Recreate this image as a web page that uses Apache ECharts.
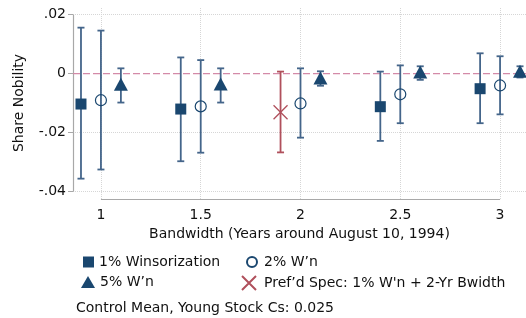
<!DOCTYPE html>
<html>
<head>
<meta charset="utf-8">
<script src="https://cdn.jsdelivr.net/npm/echarts@6/dist/echarts.min.js"></script>
<style>
html,body{margin:0;padding:0;background:#fff;}
#chart{width:526px;height:318px;}
</style>
</head>
<body>
<div id="chart"></div>
<script>
// ---- data ----
const xTickValues = [1, 1.5, 2, 2.5, 3];
const xTickLabels = ['1', '1.5', '2', '2.5', '3'];
const yTickValues = [-0.04, -0.02, 0, 0.02];
const yTickLabels = ['-.04', '-.02', '0', '.02'];
const zeroLineY = 0;

const w1X   = [0.9, 1.4, 2.4, 2.9];
const w1Est = [-0.0103, -0.0120, -0.0112, -0.0051];
const w1Lo  = [-0.0356, -0.0297, -0.0228, -0.0168];
const w1Hi  = [0.0156, 0.0055, 0.0007, 0.0069];

const w2X   = [1.0, 1.5, 2.0, 2.5, 3.0];
const w2Est = [-0.0090, -0.0111, -0.0101, -0.0070, -0.0040];
const w2Lo  = [-0.0325, -0.0268, -0.0217, -0.0168, -0.0138];
const w2Hi  = [0.0146, 0.0046, 0.0018, 0.0028, 0.0059];

const w5X   = [1.1, 1.6, 2.1, 2.6, 3.1];
const w5Est = [-0.0036, -0.0035, -0.0015, 0.0006, 0.0008];
const w5Lo  = [-0.0098, -0.0098, -0.0041, -0.0021, -0.0013];
const w5Hi  = [0.0018, 0.0018, 0.0008, 0.0025, 0.0025];

const prefX   = [1.9];
const prefEst = [-0.0131];
const prefLo  = [-0.0267];
const prefHi  = [0.0007];

const names = ['1% Winsorization', '2% W\u2019n', '5% W\u2019n', 'Pref\u2019d Spec: 1% W\'n + 2-Yr Bwidth'];
const noteText = 'Control Mean, Young Stock Cs: 0.025';
const xTitle = 'Bandwidth (Years around August 10, 1994)';
const yTitle = 'Share Nobility';

// ---- chart setup ----
const X_MIN = 0.86, X_MAX = 3.13, Y_MIN = -0.0425, Y_MAX = 0.0226;
const NAVY = '#1a476f', BAR = '#44658a', RED = '#b0505c', GRID = '#d6d6d6', AXIS = '#a8a8a8', ZERO = '#d48aa8';
const FONT = 'DejaVu Sans';

function zip(xs, a) { return xs.map((x, i) => [x, a[i]]); }
function zip3(xs, lo, hi) { return xs.map((x, i) => [x, lo[i], hi[i]]); }

function errBar(color) {
  return function (params, api) {
    const x = api.value(0);
    const lo = api.coord([x, api.value(1)]);
    const hi = api.coord([x, api.value(2)]);
    const cap = 3.5;
    const st = { stroke: color, lineWidth: 1.8 };
    return {
      type: 'group',
      children: [
        { type: 'line', shape: { x1: lo[0], y1: lo[1], x2: hi[0], y2: hi[1] }, style: st },
        { type: 'line', shape: { x1: lo[0] - cap, y1: lo[1], x2: lo[0] + cap, y2: lo[1] }, style: st },
        { type: 'line', shape: { x1: hi[0] - cap, y1: hi[1], x2: hi[0] + cap, y2: hi[1] }, style: st }
      ]
    };
  };
}

const gridLines = [];
yTickValues.forEach(v => { if (v !== 0) gridLines.push({ yAxis: v }); });
xTickValues.forEach(v => gridLines.push({ xAxis: v }));

const chart = echarts.init(document.getElementById('chart'), null, { renderer: 'canvas' });
const option = {
  animation: false,
  backgroundColor: '#fff',
  textStyle: { fontFamily: FONT },
  grid: { left: 73, right: 0, top: 7, bottom: 119, containLabel: false },
  title: {
    text: noteText, left: 76, top: 301, padding: 0,
    textStyle: { fontFamily: FONT, fontSize: 14, fontWeight: 'normal', color: '#111' }
  },
  xAxis: {
    type: 'value', min: X_MIN, max: X_MAX,
    name: xTitle, nameLocation: 'middle', nameGap: 25,
    nameTextStyle: { fontFamily: FONT, fontSize: 14, color: '#111', verticalAlign: 'top' },
    axisLine: { show: false },
    axisTick: { show: true, customValues: xTickValues, length: 5, lineStyle: { color: AXIS } },
    axisLabel: {
      customValues: xTickValues, margin: 9, fontFamily: FONT, fontSize: 14, color: '#111',
      formatter: v => { const i = xTickValues.findIndex(t => Math.abs(t - v) < 1e-9); return i >= 0 ? xTickLabels[i] : ''; }
    },
    splitLine: { show: false }
  },
  yAxis: {
    type: 'value', min: Y_MIN, max: Y_MAX,
    name: yTitle, nameLocation: 'middle', nameGap: 47, nameRotate: 90,
    nameTextStyle: { fontFamily: FONT, fontSize: 14, color: '#111' },
    axisLine: { show: false },
    axisTick: { show: true, customValues: yTickValues, length: 5, lineStyle: { color: AXIS } },
    axisLabel: {
      customValues: yTickValues, margin: 7, fontFamily: FONT, fontSize: 14, color: '#111',
      formatter: v => { const i = yTickValues.findIndex(t => Math.abs(t - v) < 1e-9); return i >= 0 ? yTickLabels[i] : ''; }
    },
    splitLine: { show: false }
  },
  legend: [
    { data: [names[0]], left: 83, top: 255, itemWidth: 11, itemHeight: 11, padding: 0,
      textStyle: { fontFamily: FONT, fontSize: 14, color: '#111', padding: [0, 0, 0, 0] } },
    { data: [names[1]], left: 246, top: 255, itemWidth: 10, itemHeight: 10, padding: 0,
      textStyle: { fontFamily: FONT, fontSize: 14, color: '#111', padding: [0, 0, 0, 2] } },
    { data: [names[2]], left: 81, top: 275, itemWidth: 14, itemHeight: 12, padding: 0,
      textStyle: { fontFamily: FONT, fontSize: 14, color: '#111', padding: [0, 0, 0, 0] } },
    { data: [names[3]], left: 241, top: 275, itemWidth: 14, itemHeight: 14, padding: 0,
      textStyle: { fontFamily: FONT, fontSize: 14, color: '#111', padding: [0, 0, 0, 3] } }
  ],
  series: [
    // dotted gridlines
    {
      type: 'line', data: [], silent: true, z: 1,
      markLine: {
        silent: true, symbol: 'none', label: { show: false }, animation: false, z: 1,
        lineStyle: { color: GRID, type: 'dotted', width: 1 },
        data: gridLines
      }
    },
    // zero reference line (dashed pink)
    {
      type: 'line', silent: true, z: 2, symbol: 'none', showSymbol: false,
      lineStyle: { color: ZERO, type: [7, 3], width: 1.2 },
      itemStyle: { color: ZERO },
      data: [[X_MIN, zeroLineY], [X_MAX, zeroLineY]]
    },
    // axis lines spanning first to last tick
    {
      type: 'line', data: [], silent: true, z: 2, color: AXIS,
      markLine: {
        silent: true, symbol: 'none', label: { show: false }, animation: false, z: 2,
        lineStyle: { color: AXIS, type: 'solid', width: 1.2 },
        data: [
          [ { coord: [X_MIN, yTickValues[yTickValues.length - 1]] }, { coord: [X_MIN, yTickValues[0]] } ],
          [ { coord: [xTickValues[0], Y_MIN] }, { coord: [xTickValues[xTickValues.length - 1], Y_MIN] } ]
        ]
      }
    },
    // error bars
    { type: 'custom', silent: true, z: 3, renderItem: errBar(BAR), data: zip3(w1X, w1Lo, w1Hi) },
    { type: 'custom', silent: true, z: 3, renderItem: errBar(BAR), data: zip3(w2X, w2Lo, w2Hi) },
    { type: 'custom', silent: true, z: 3, renderItem: errBar(BAR), data: zip3(w5X, w5Lo, w5Hi) },
    { type: 'custom', silent: true, z: 3, renderItem: errBar(RED), data: zip3(prefX, prefLo, prefHi) },
    // markers
    { name: names[0], type: 'scatter', z: 5, symbol: 'rect', symbolSize: 11,
      itemStyle: { color: NAVY, opacity: 1 }, data: zip(w1X, w1Est) },
    { name: names[1], type: 'scatter', z: 5, symbol: 'circle', symbolSize: 11,
      itemStyle: { color: 'rgba(255,255,255,0)', borderColor: NAVY, borderWidth: 1.2, opacity: 1 }, data: zip(w2X, w2Est) },
    { name: names[2], type: 'scatter', z: 5, symbol: 'triangle', symbolSize: [14, 13],
      itemStyle: { color: NAVY, opacity: 1 }, data: zip(w5X, w5Est) },
    { name: names[3], type: 'scatter', z: 5, symbol: 'path://M0,0L10,10M10,0L0,10', symbolSize: 14,
      itemStyle: { color: 'rgba(0,0,0,0)', borderColor: RED, borderWidth: 1.3, opacity: 1 }, data: zip(prefX, prefEst) }
  ]
};
chart.setOption(option);
</script>
</body>
</html>
